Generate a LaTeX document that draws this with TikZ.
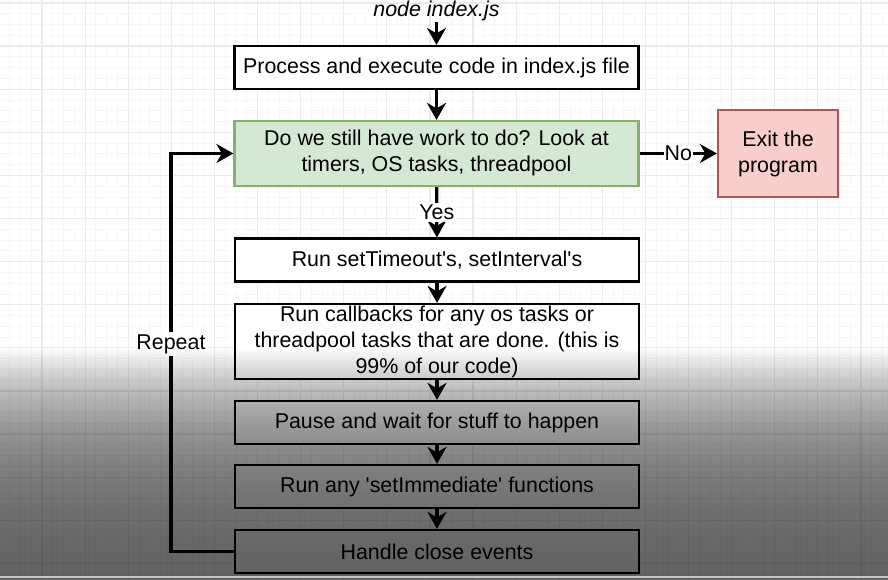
\documentclass[tikz,border=0pt]{standalone}
\usepackage{fontspec}
\newfontfamily\lsans{Liberation Sans}
\usetikzlibrary{arrows.meta}
\definecolor{gfill}{HTML}{D5E8D4}
\definecolor{gline}{HTML}{82B366}
\definecolor{rfill}{HTML}{F8CECC}
\definecolor{rline}{HTML}{B85450}
\definecolor{gridmaj}{HTML}{EBEBEB}
\definecolor{gridmin}{HTML}{F6F6F6}
\tikzset{
  txt/.style={font=\lsans\fontsize{21.4}{26}\selectfont, align=center},
  box/.style={txt, draw=black, line width=2.2pt, fill=white, minimum width=404pt, minimum height=43pt, inner sep=0pt},
  conn/.style={line width=3.2pt, -{Stealth[length=17pt,width=19pt,inset=5.5pt]}},
  lbl/.style={txt, fill=white, inner sep=2pt},
}
\begin{document}
\begin{tikzpicture}[x=1pt,y=-1pt]
\useasboundingbox (0,0) rectangle (888,580);
\fill[white] (0,0) rectangle (888,580);
% grid
\foreach \k in {-4,...,82} {\draw[gridmin, line width=0.8pt] ({42+\k*10.775},0) -- ({42+\k*10.775},580);}
\foreach \k in {-1,...,54} {\draw[gridmin, line width=0.8pt] (0,{3+\k*10.775}) -- (888,{3+\k*10.775});}
\foreach \k in {-1,...,20} {\draw[gridmaj, line width=1.2pt] ({42+\k*43.1},0) -- ({42+\k*43.1},580);}
\foreach \k in {0,...,13} {\draw[gridmaj, line width=1.2pt] (0,{3+\k*43.1}) -- (888,{3+\k*43.1});}
% nodes
\node[txt, font=\lsans\fontsize{21.4}{26}\selectfont\itshape, inner sep=1pt] (start) at (436.5,11) {node index.js};
\node[box] (p1) at (436.5,67.5) {Process and execute code in index.js file};
\node[box, fill=gfill, draw=gline, minimum height=65pt] (loop) at (436.5,153.5) {\raisebox{-3pt}{\begin{tabular}{@{}c@{}}Do we still have work to do? Look at\\timers, OS tasks, threadpool\end{tabular}}};
\node[box, fill=rfill, draw=rline, minimum width=120pt, minimum height=87pt] (exit) at (778,153.5) {Exit the\\program};
\node[box] (t1) at (437,260) {Run setTimeout's, setInterval's};
\node[box, minimum height=75pt] (cb) at (437,341.5) {Run callbacks for any os tasks or\\threadpool tasks that are done. (this is\\99\% of our code)};
\node[box] (pause) at (437,422.5) {Pause and wait for stuff to happen};
\node[box] (imm) at (437,486.5) {Run any 'setImmediate' functions};
\node[box] (close) at (437,551.5) {Handle close events};
\coordinate (rp) at (171,551.5);
% connectors
\draw[conn] (start) -- (p1);
\draw[conn] (p1) -- (loop);
\draw[conn] (loop) -- node[lbl] (yes) {Yes} (t1);
\draw[conn] (loop) -- node[lbl, inner sep=1pt] (no) {No} (exit);
\draw[conn] (t1) -- (cb);
\draw[conn] (cb) -- (pause);
\draw[conn] (pause) -- (imm);
\draw[conn] (imm) -- (close);
\draw[conn] (close.west) -- (rp) |- (loop.west);
\node[lbl] (rep) at (171,344) {Repeat};
% video overlay (darkening gradient at the bottom)
\foreach \i in {0,...,115} {
  \pgfmathsetmacro\op{0.66*(1-exp(-(2*\i+1)/85))}
  \fill[black, fill opacity=\op] (0,{348+2*\i}) rectangle (888,{350+2*\i});
}
\draw[black!22, line width=2pt] (0,577) -- (888,577);
\end{tikzpicture}
\end{document}
